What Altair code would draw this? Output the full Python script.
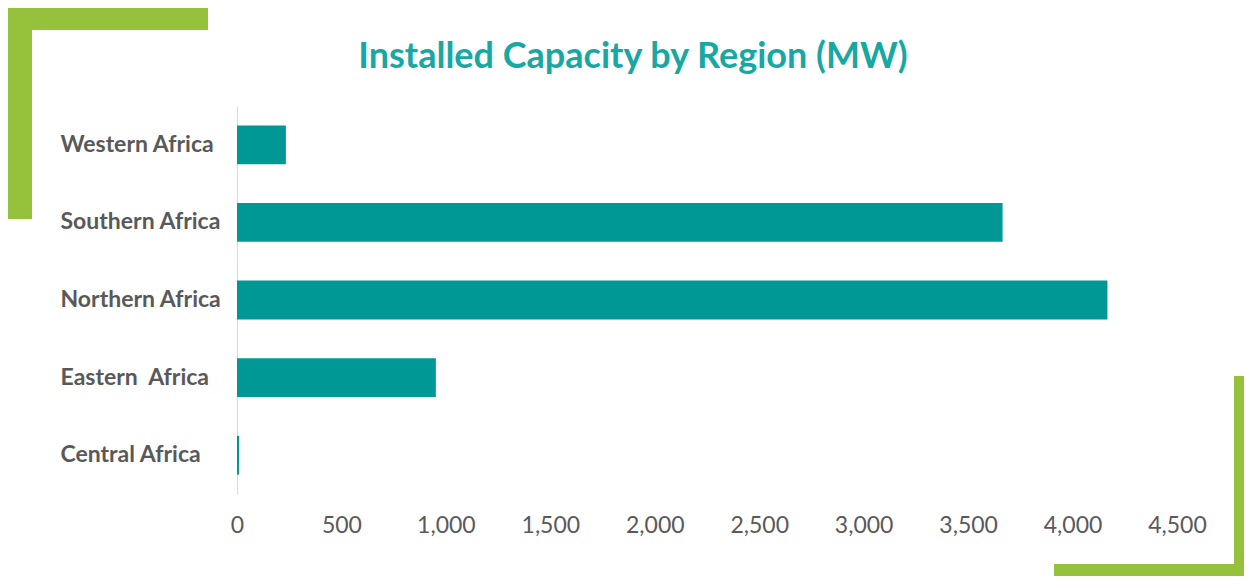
import altair as alt
import pandas as pd

regions = ["Western Africa", "Southern Africa", "Northern Africa", "Eastern\u00a0 Africa", "Central Africa"]
capacity_mw = [234, 3665, 4167, 952, 10]
x_ticks = [0, 500, 1000, 1500, 2000, 2500, 3000, 3500, 4000, 4500]
chart_title = ["Installed Capacity by Region (MW)"]

df = pd.DataFrame({"region": regions, "mw": capacity_mw})

TEAL = "#009894"
GREEN = "#96C13D"
GREY = "#595959"

bars = alt.Chart(df).mark_bar(color=TEAL).encode(
    x=alt.X("mw:Q",
            scale=alt.Scale(domain=[0, 4500], nice=False),
            axis=alt.Axis(values=x_ticks, format=",.0f", title=None, grid=False,
                          domain=False, ticks=False, tickSize=0, labelPadding=20,
                          labelFlush=False,
                          labelFont="Lato", labelFontSize=23, labelColor=GREY)),
    y=alt.Y("region:N", sort=regions,
            scale=alt.Scale(paddingInner=0.5, paddingOuter=0.25),
            axis=alt.Axis(title=None, grid=False, domain=True, domainColor="#D9D9D9",
                          ticks=False, tickSize=0, labelAlign="left", labelPadding=177,
                          labelFont="Lato", labelFontSize=23, labelFontWeight="bold",
                          labelColor=GREY)),
)

one = pd.DataFrame({"k": [0]})


def deco(x, x2, y, y2):
    return alt.Chart(one).mark_rect(color=GREEN).encode(
        x=alt.value(x), x2=alt.value(x2), y=alt.value(y), y2=alt.value(y2))


title = alt.Chart(pd.DataFrame({"t": chart_title})).mark_text(
    font="Lato", fontSize=36, fontWeight="bold", color="#17A8A4",
    align="center", baseline="alphabetic",
).encode(text="t:N", x=alt.value(396), y=alt.value(-38))

chart = alt.layer(
    deco(-230, -29, -99, -76),
    deco(-230, -205, -99, 113),
    deco(997, 1015, 270, 478),
    deco(817, 1015, 458, 478),
    bars,
    title,
).properties(
    width=940, height=388,
    padding={"left": 229, "top": 98, "right": 67, "bottom": 82},
    autosize=alt.AutoSizeParams(type="none"),
).configure_view(stroke=None)

chart.save("out.html", embed_options={"renderer": "svg", "actions": False})
